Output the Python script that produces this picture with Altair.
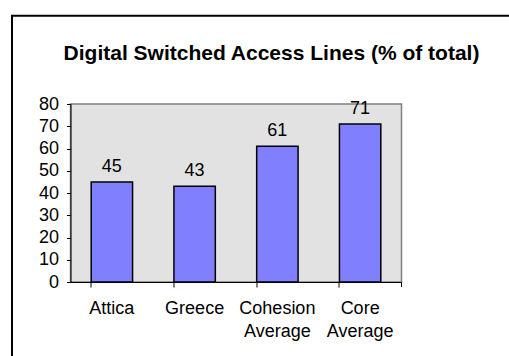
import altair as alt
import pandas as pd

categories = ["Attica", "Greece", "Cohesion Average", "Core Average"]
values = [45, 43, 61, 71]
y_ticks = [0, 10, 20, 30, 40, 50, 60, 70, 80]
title_text = "Digital Switched Access Lines (% of total)"

df = pd.DataFrame({"region": categories, "pct": values})

FONT = "Liberation Sans"
W, H = 331, 178
FS = 18

x_enc = alt.X(
    "region:N",
    sort=categories,
    scale=alt.Scale(paddingInner=0.5, paddingOuter=0.25),
    axis=alt.Axis(
        title=None,
        labelAngle=0,
        labelExpr="split(datum.value, ' ')",
        labelFont=FONT,
        labelFontSize=FS,
        labelColor="#000000",
        labelPadding=12,
        labelLineHeight=23,
        labelBaseline="top",
        labelOverlap=False,
        bandPosition=0,
        tickSize=5,
        tickColor="#000000",
        domainColor="#000000",
        grid=False,
    ),
)

y_enc = alt.Y(
    "pct:Q",
    scale=alt.Scale(domain=[0, 80], nice=False),
    axis=alt.Axis(
        title=None,
        values=y_ticks,
        labelFont=FONT,
        labelFontSize=FS,
        labelColor="#000000",
        labelPadding=8,
        labelOverlap=False,
        labelFlush=False,
        tickSize=4,
        tickColor="#000000",
        domainColor="#000000",
        grid=False,
    ),
)

bars = alt.Chart(df).mark_bar(
    color="#8080FF", stroke="#000000", strokeWidth=1.5
).encode(x=x_enc, y=y_enc)

labels = alt.Chart(df).mark_text(
    font=FONT, fontSize=FS, color="#000000", baseline="alphabetic", dy=-10
).encode(x=x_enc, y=y_enc, text="pct:Q")

deco = alt.Data(values=[{"t": title_text}])
title = alt.Chart(deco).mark_text(
    font=FONT, fontSize=21, fontWeight="bold", color="#000000",
    align="center", baseline="alphabetic"
).encode(x=alt.value(201), y=alt.value(-44.5), text="t:N")
frame_left = alt.Chart(deco).mark_rule(color="#000000", strokeWidth=2).encode(
    x=alt.value(-58.5), y=alt.value(-89), y2=alt.value(300)
)
frame_top = alt.Chart(deco).mark_rule(color="#000000", strokeWidth=2).encode(
    x=alt.value(-59.5), x2=alt.value(460), y=alt.value(-88.3)
)
last_tick = alt.Chart(deco).mark_rule(color="#000000", strokeWidth=1).encode(
    x=alt.value(W), y=alt.value(H), y2=alt.value(H + 5)
)

chart = (
    alt.layer(bars, labels, title, frame_left, frame_top, last_tick)
    .properties(
        width=W,
        height=H,
        autosize="none",
        padding={"left": 70.5, "top": 104, "right": 509 - 70.5 - W, "bottom": 356 - 104 - H},
        background="#FFFFFF",
    )
    .configure_view(fill="#E2E2E2", stroke="#808080", strokeWidth=1.5)
)

chart.save("out.html", embed_options={"renderer": "svg", "actions": False})
